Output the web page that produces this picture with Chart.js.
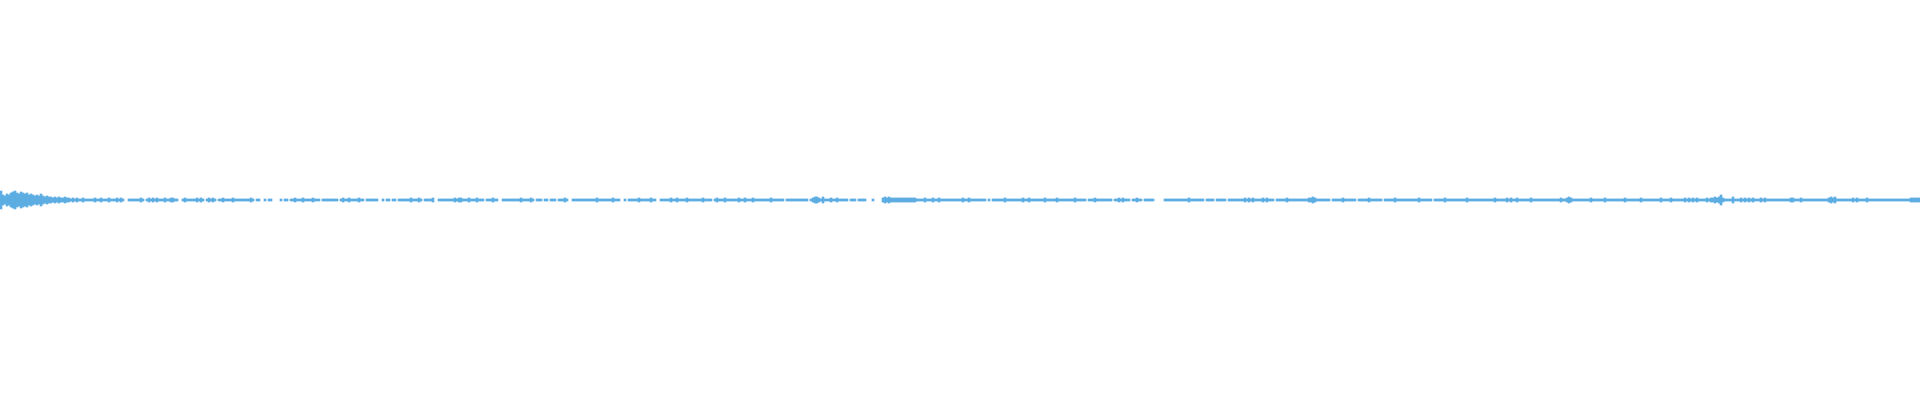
<!DOCTYPE html>
<html>
<head>
<meta charset="utf-8">
<script src="https://cdn.jsdelivr.net/npm/chart.js@4/dist/chart.umd.min.js"></script>
<style>
    html, body { margin: 0; padding: 0; background: #ffffff; }
    #wrap { width: 1920px; height: 400px; position: relative; }
</style>
</head>
<body>
<div id="wrap"><canvas id="wave"></canvas></div>
<script>
// amplitud por bloque (cada valor = un bloque de la onda), 0 = silencio
const waveIntro = [9,5,4,6,5,7,8,9,7,6, 8,7,6,7,5,6,5,4,5,4, 6,4,3,4,3,3,2,3,2,3, 2,2,3,2,2,1,2,1,2,1];

const wave1 = [
    1,2,1,1,1,1,1,2,1,1, 2,1,1,1,2,1,1,1,2,1, 2,1,0,0,1,1,1,1,1,1, 2,1,0,1,2,1,2,1,2,1,
    1,1,2,1,1,2,2,1,1,0, 0,1,2,1,1,1,1,1,2,1, 2,1,0,1,2,1,2,1,0,1, 1,2,1,1,1,1,2,1,1,1,
    1,1,1,1,1,2,1,0,1,1, 0,0,1,0,1,1,0,0,0,0, 1,0,1,1,0,1,1,2,1,1, 1,2,1,1,1,1,2,1,1,1,
    0,1,1,1,1,1,1,1,1,0, 1,2,1,1,2,1,1,1,1,2, 1,1,0,1,1,1,1,1,1,0, 0,1,0,1,1,0,1,1,0,1,
    1,1,1,1,1,2,1,1,1,2, 1,0,1,1,1,1,2,0,0,1, 1,1,1,1,1,1,1,2,1,2, 2,1,1,1,2,1,1,1,2,1,
    1,1,0,1,1,1,2,1,1,0, 0,1,1,1,1,1,1,1,1,1, 2,1,1,1,1,2,1,0,1,1, 1,0,1,1,0,1,1,1,0,1,
    1,1,2,1,0,0,1,1,1,1, 1,1,1,1,1,1,1,1,2,1, 1,1,1,1,1,1,2,1,1,1, 0,0,1,0,1,1,1,1,1,2
];

const wave2 = [
    1,1,1,1,1,2,1,1,0,0, 1,1,1,1,1,2,1,1,2,1, 1,1,1,2,1,1,1,1,1,1, 1,2,1,1,1,1,0,1,2,1,
    1,1,2,1,1,1,1,1,1,2, 1,1,2,1,1,1,2,1,1,1, 1,1,1,1,1,2,1,1,1,1, 1,1,0,1,1,1,1,1,1,1,
    1,1,1,1,0,1,2,3,3,2, 1,3,1,1,1,2,1,1,2,1, 1,1,1,1,0,1,1,1,0,1, 1,1,1,0,0,0,1,0,0,0,
    0,2,3,2,3,2,2,2,2,2, 2,2,2,2,2,2,2,2,1,1, 1,1,2,1,1,1,2,1,1,2, 1,1,1,1,1,1,1,1,1,1,
    1,2,1,1,2,1,1,1,1,1, 1,1,1,0,1,0,1,1,1,1, 1,1,2,1,1,1,1,1,1,1, 1,2,1,1,2,1,1,1,1,1,
    1,1,2,1,1,1,1,1,2,1, 1,1,1,1,1,1,1,2,1,1, 1,1,1,0,1,1,1,2,1,1, 1,1,1,1,1,1,0,1,1,2,
    1,2,1,1,1,0,1,1,2,1, 1,0,1,1,1,1,1,0,0,0, 0,0,1,1,1,1,1,1,1,1, 1,1,1,1,2,1,1,1,1,1,
    1,1,0,1,1,1,1,0,1,1, 1,1,1,0,1,1,1,1,1,1, 1,1,2,1,2,1,2,1,1,1, 1,2,1,2,1,1,1,0,1,1
];

const wave3 = [
    1,1,1,2,1,1,1,1,1,1, 1,1,1,1,2,2,3,2,1,1, 1,1,1,1,1,0,1,1,1,1, 1,2,1,1,1,1,1,1,0,1,
    1,1,1,1,2,1,1,1,1,1, 1,0,1,1,1,1,1,2,1,1, 1,1,1,1,1,1,1,1,1,2, 1,1,1,1,1,1,0,1,1,1,
    1,1,2,1,1,1,1,1,1,1, 1,1,1,2,1,1,1,1,1,1, 1,1,1,1,1,1,1,2,1,1, 1,1,1,2,1,2,1,1,2,1,
    1,1,1,1,1,2,1,1,1,1, 1,1,1,1,1,1,1,1,1,1, 2,1,1,2,3,2,1,1,1,1, 1,1,1,1,1,2,1,1,1,1,
    1,1,2,1,1,1,1,1,1,1, 1,1,2,1,1,1,1,1,1,1, 2,1,1,1,1,1,1,1,1,1, 2,1,1,1,1,2,1,1,1,1,
    1,1,2,1,2,1,2,1,2,1, 1,1,1,2,1,2,2,3,2,3, 5,2,1,1,1,1,3,1,1,1, 2,1,2,1,2,1,2,1,1,1,
    2,1,2,1,1,1,1,1,1,1, 1,1,1,1,1,2,2,1,1,1, 2,1,1,1,1,1,1,1,1,1, 1,1,1,1,2,3,2,3,1,1,
    1,1,1,1,1,1,2,1,2,1, 1,1,1,2,1,1,1,1,1,1, 1,1,1,1,1,1,1,1,1,1, 1,1,1,1,1,2,2,2,2,2
];

const waveColor = '#5dade2';

document.addEventListener('DOMContentLoaded', () => {
    const amp = waveIntro.concat(wave1, wave2, wave3);
    const bins = amp.map((_, i) => i);
    // barra flotante de -a a +a, nada si es silencio
    const bars = amp.map(a => a > 0 ? [-a, a] : null);

    new Chart(document.getElementById('wave'), {
        type: 'bar',
        data: {
            labels: bins,
            datasets: [{
                data: bars,
                backgroundColor: waveColor,
                borderWidth: 0,
                barPercentage: 1,
                categoryPercentage: 1
            }]
        },
        options: {
            responsive: true,
            maintainAspectRatio: false,
            animation: false,
            layout: { padding: 0 },
            plugins: {
                legend: { display: false },
                tooltip: { enabled: false }
            },
            scales: {
                x: { display: false },
                y: { display: false, min: -200, max: 200 }
            }
        }
    });
});
</script>
</body>
</html>
